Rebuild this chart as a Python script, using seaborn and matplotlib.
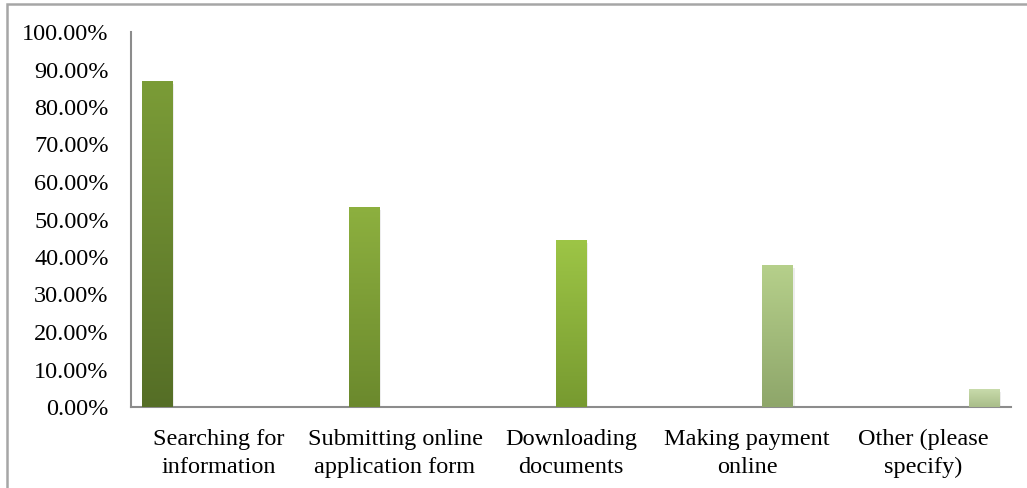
import numpy as np
import pandas as pd
import matplotlib.pyplot as plt
import matplotlib.patches as mpatches
from matplotlib.colors import LinearSegmentedColormap
import seaborn as sns

# data
categories = ['Searching for\ninformation', 'Submitting online\napplication form',
              'Downloading\ndocuments', 'Making payment\nonline', 'Other (please\nspecify)']
values = [86.9, 53.4, 44.5, 37.9, 4.8]
# each category is its own series in the original (excel clustered look)
series = ['s1', 's2', 's3', 's4', 's5']
top_colors = ['#7b9c37', '#8db03f', '#9dc546', '#b6d08b', '#c8dbab']
bottom_colors = ['#556e26', '#6b892d', '#779a30', '#8ea66a', '#a9bd89']

rows = []
for i, c in enumerate(categories):
    for j, s in enumerate(series):
        rows.append({'cat': c, 'series': s, 'val': values[i] if i == j else 0.0})
df = pd.DataFrame(rows)

sns.set_style('white')
plt.rcParams['font.family'] = ['Liberation Serif', 'DejaVu Serif']

fig = plt.figure(figsize=(10.27, 4.88), dpi=100)
ax = fig.add_axes([131 / 1027, 1 - 407 / 488, 880 / 1027, 375 / 488])

sns.barplot(data=df, x='cat', y='val', hue='series', palette=top_colors,
            width=0.88, gap=0, dodge=True, legend=False, ax=ax, saturation=1,
            linewidth=0)

# gradient fill on each bar
for j, cont in enumerate(ax.containers):
    cmap = LinearSegmentedColormap.from_list('g%d' % j, [bottom_colors[j], top_colors[j]])
    for p in cont.patches:
        h = p.get_height()
        if h <= 0:
            p.set_visible(False)
            continue
        x0 = p.get_x()
        w = p.get_width()
        # faint shadow
        ax.add_patch(mpatches.Rectangle((x0 + 0.006, -0.8), w, h, color='#000000',
                                        alpha=0.07, zorder=1, lw=0))
        p.set_zorder(2)
        grad = np.linspace(0, 1, 256).reshape(-1, 1)
        im = ax.imshow(grad, cmap=cmap, origin='lower', aspect='auto',
                       extent=(x0, x0 + w, 0, h), zorder=3)
        im.set_clip_path(p)

ax.set_xlim(-0.5, 4.5)
ax.set_ylim(0, 100)
ax.set_yticks(np.arange(0, 101, 10))
ax.set_yticklabels(['%.2f%%' % v for v in np.arange(0, 101, 10)])
ax.set_xlabel('')
ax.set_ylabel('')
ax.tick_params(axis='both', length=0, labelsize=17.5, colors='black')
ax.tick_params(axis='y', pad=16)
ax.tick_params(axis='x', pad=16)
for lbl in ax.get_xticklabels():
    lbl.set_linespacing(1.4)

for side in ['top', 'right']:
    ax.spines[side].set_visible(False)
for side in ['left', 'bottom']:
    ax.spines[side].set_color('#8c8c8c')
    ax.spines[side].set_linewidth(1.5)

# outer chart frame
fig.patches.append(mpatches.Rectangle((7 / 1027, -0.1), 1.2, (488 - 4.5) / 488 + 0.1,
                                      transform=fig.transFigure, fill=False,
                                      edgecolor='#a6a6a6', linewidth=1.8))

fig.savefig('out.png', dpi=100)
